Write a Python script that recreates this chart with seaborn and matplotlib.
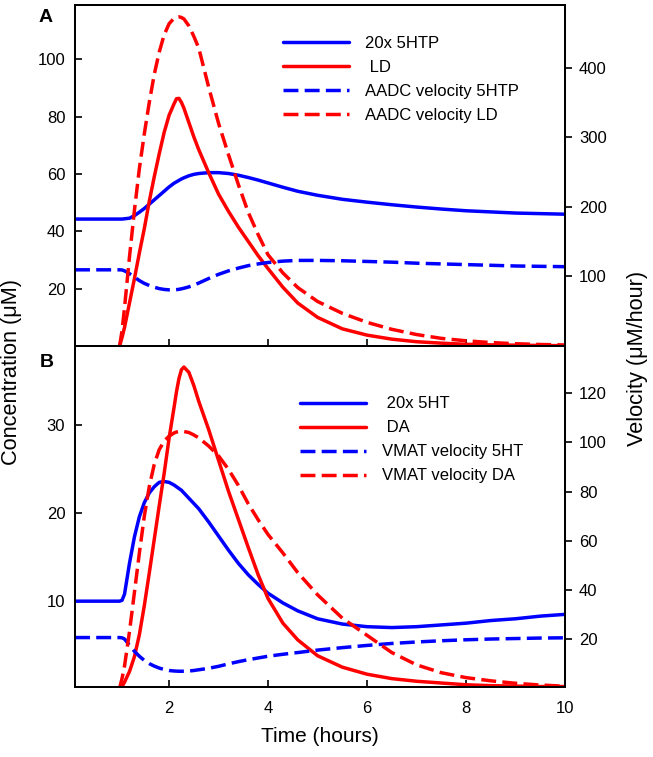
import matplotlib
matplotlib.use("Agg")
import matplotlib.pyplot as plt
import numpy as np
import seaborn as sns

# time grid (hours)
t = [0.1, 1.0, 1.05, 1.1, 1.2, 1.3, 1.4, 1.5, 1.6, 1.7, 1.8, 1.9, 2.0, 2.1, 2.15, 2.2,
     2.25, 2.3, 2.4, 2.5, 2.6, 2.8, 3.0, 3.2, 3.4, 3.6, 3.8, 4.0, 4.3, 4.6, 5.0, 5.5,
     6.0, 6.5, 7.0, 7.5, 8.0, 8.5, 9.0, 9.5, 10.0]
nan = np.nan

# panel A
htp_20x = [44.3, 44.3, 44.3, 44.4, 44.6, 45.5, 46.7, 48.0, 49.5, 51.0, 52.5, 54.0, 55.5,
           56.8, 57.3, 57.8, 58.3, 58.7, 59.4, 59.9, 60.2, 60.5, 60.5, 60.2, 59.6, 58.8,
           57.9, 56.9, 55.4, 54.0, 52.6, 51.2, 50.2, 49.3, 48.5, 47.8, 47.2, 46.8, 46.4,
           46.2, 46.0]
ld = [nan, 0, 3, 6.5, 15, 23.5, 32.5, 41, 50.5, 59, 67, 74.5, 80.5, 84.5, 86.3, 86.4, 85,
      83, 78, 73, 68.5, 60.5, 53, 47, 41.5, 36.5, 31.5, 27, 20.5, 15, 10, 6, 3.8,
      2.4, 1.5, 1.0, 0.6, 0.4, 0.3, 0.2, 0.1]
aadc_5htp = [109.5, 109.5, 109.3, 108, 104, 99, 94, 90, 87, 84.5, 82.5, 81.3, 80.7, 80.7,
             81, 81.5, 82.2, 83, 85, 87.5, 90.5, 97, 103, 108, 112, 115.5, 118, 120, 122,
             123, 123, 122.5, 121.5, 120.5, 119, 118, 117, 116, 115, 114.5, 114]
aadc_ld = [nan, 0, 22, 55, 128, 195, 255, 305, 350, 390, 422, 447, 463, 471, 472.5, 473,
           472, 470, 460, 445, 428, 372, 320, 275, 232, 192, 160, 131, 105, 84, 64, 47, 34,
           24, 16.5, 11, 7.5, 5, 3.3, 2.2, 1.5]

# panel B
ht_20x = [10, 10, 10.1, 10.8, 14.3, 17.3, 19.6, 21.2, 22.3, 23, 23.5, 23.6, 23.5, 23.2,
          23.0, 22.8, 22.6, 22.3, 21.7, 21.1, 20.5, 19, 17.4, 15.8, 14.3, 13, 11.9, 10.9,
          9.8, 8.9, 8.0, 7.4, 7.1, 7.0, 7.1, 7.3, 7.5, 7.8, 8.0, 8.3, 8.5]
da = [nan, 0, 0.3, 0.8, 2.0, 3.7, 6.2, 9.5, 13.2, 17, 20.8, 24.5, 28.5, 32, 33.8, 35.3,
      36.3, 36.6, 36, 34.5, 32.7, 29.5, 26, 22.5, 19.3, 16.1, 13, 10.3, 7.5, 5.6, 3.8, 2.5,
      1.7, 1.2, 0.9, 0.7, 0.5, 0.4, 0.35, 0.3, 0.3]
vmat_5ht = [20.6, 20.6, 20.5, 20, 17.5, 15, 13, 11.3, 10, 9, 8.2, 7.6, 7.2, 7.0, 6.95,
            6.9, 6.9, 6.9, 7.0, 7.2, 7.5, 8.1, 8.9, 9.9, 10.8, 11.6, 12.3, 13, 13.8, 14.5,
            15.5, 16.5, 17.4, 18.2, 18.8, 19.3, 19.7, 20, 20.2, 20.4, 20.5]
vmat_da = [nan, 0, 4, 9, 23, 39, 55, 70, 82, 91, 97, 100.5, 102.5, 103.8, 104.2, 104.4,
           104.5, 104.4, 104, 103, 101.8, 98.5, 94.5, 89, 82.5, 75, 68.5, 62.5, 55, 47, 38,
           28.5, 21.5, 14.5, 9.5, 6.3, 4.3, 3, 2, 1.3, 0.8]

labels_a = ["20x 5HTP", " LD", "AADC velocity 5HTP", "AADC velocity LD"]
labels_b = [" 20x 5HT", " DA", "VMAT velocity 5HT", "VMAT velocity DA"]

BLUE = "#0000ff"
RED = "#ff0000"
LW = 2.5
DASH = (0, (4.3, 1.8))

sns.set_style("ticks")
plt.rcParams['font.family'] = ['Liberation Sans', 'DejaVu Sans']
plt.rcParams['font.size'] = 12
plt.rcParams['axes.linewidth'] = 1.4
for key in ['text.color', 'axes.labelcolor', 'xtick.color', 'ytick.color', 'axes.edgecolor']:
    plt.rcParams[key] = 'black'

fig = plt.figure(figsize=(6.53, 7.57), dpi=100)
ax1 = fig.add_axes([0.1149, 0.5429, 0.7504, 0.4505])
ax2 = fig.add_axes([0.1149, 0.0925, 0.7504, 0.4505])
ax1r = ax1.twinx()
ax2r = ax2.twinx()

panels = [
    (ax1, ax1r, htp_20x, ld, aadc_5htp, aadc_ld, labels_a, (0.4334, 0.9524)),
    (ax2, ax2r, ht_20x, da, vmat_5ht, vmat_da, labels_b, (0.4594, 0.4763)),
]
for ax, axr, conc_b, conc_r, vel_b, vel_r, labs, anchor in panels:
    sns.lineplot(x=t, y=conc_b, ax=ax, color=BLUE, lw=LW, label=labs[0])
    sns.lineplot(x=t, y=conc_r, ax=ax, color=RED, lw=LW, label=labs[1])
    sns.lineplot(x=t, y=vel_b, ax=axr, color=BLUE, lw=LW, linestyle=DASH, label=labs[2])
    sns.lineplot(x=t, y=vel_r, ax=axr, color=RED, lw=LW, linestyle=DASH, label=labs[3])
    for a in (ax, axr):
        if a.get_legend() is not None:
            a.get_legend().remove()
    ax.set_xlim(0.1, 10)
    ax.tick_params(axis='y', direction='in', length=5, width=1.2, pad=7, labelsize=12)
    ax.tick_params(axis='x', direction='in', length=5, width=1.2, pad=10, labelsize=12,
                   top=False)
    axr.tick_params(axis='y', direction='out', length=5, width=1.2, pad=5, labelsize=12)
    for a in (ax, axr):
        for s in a.spines.values():
            s.set_visible(True)
            s.set_linewidth(1.4)

    handles = ax.get_lines()[:2] + axr.get_lines()[:2]
    axr.legend(handles, labs, loc='upper left', bbox_to_anchor=anchor,
               bbox_transform=fig.transFigure, frameon=False, fontsize=12,
               handlelength=3.95, handletextpad=0.95, labelspacing=0.54,
               borderpad=0, borderaxespad=0)

ax1.set_ylim(0, 119)
ax1r.set_ylim(0, 490)
ax1.set_yticks([20, 40, 60, 80, 100])
ax1r.set_yticks([100, 200, 300, 400])
ax1.set_xticks([2, 4, 6, 8])
ax1.tick_params(axis='x', labelbottom=False)

ax2.set_ylim(0.25, 39)
ax2r.set_ylim(0.5, 139.2)
ax2.set_yticks([10, 20, 30])
ax2r.set_yticks([20, 40, 60, 80, 100, 120])
ax2.set_xticks([2, 4, 6, 8, 10])
ax2.set_xticklabels(["2", "4", "6", "8", "10"])

for a in (ax1, ax1r, ax2, ax2r):
    a.set_xlabel("")
    a.set_ylabel("")

fig.text(0.0699, 1 - 17 / 757, "A", fontsize=14, fontweight='bold', ha='center', va='center')
fig.text(0.0715, 1 - 362 / 757, "B", fontsize=14, fontweight='bold', ha='center', va='center')
fig.text(0.018, 1 - 372 / 757, "Concentration (\u03bcM)", fontsize=15.7, rotation=90,
         ha='center', va='center')
fig.text(0.977, 1 - 358 / 757, "Velocity (\u03bcM/hour)", fontsize=15.7, rotation=90,
         ha='center', va='center')
fig.text(0.49, 1 - 737 / 757, "Time (hours)", fontsize=15, ha='center', va='center')

fig.savefig("out.png", dpi=100)
